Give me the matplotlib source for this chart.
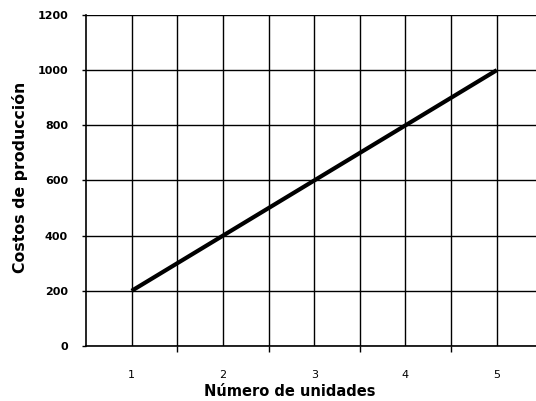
import matplotlib
matplotlib.use("Agg")
import matplotlib.pyplot as plt
from matplotlib.ticker import FixedLocator, NullFormatter

units = [1, 2, 3, 4, 5]
costs = [200, 400, 600, 800, 1000]
y_ticks = [0, 200, 400, 600, 800, 1000, 1200]

fig = plt.figure(figsize=(5.36, 4.01), dpi=100)
ax = fig.add_axes([86/536, 1-346/401, 1-86/536, (346-15)/401])

ax.plot(units, costs, color="black", lw=3, solid_capstyle="butt")

ax.set_xlim(0.5, 5.43)
ax.set_ylim(0, 1200)
ax.set_yticks(y_ticks)
ax.set_yticklabels([str(v) for v in y_ticks], fontsize=8, fontweight="bold")
ax.set_xticks(units)
ax.set_xticklabels([str(u) for u in units], fontsize=8)
ax.tick_params(axis="x", which="major", length=0, pad=17)
ax.xaxis.set_minor_locator(FixedLocator([1.5, 2.5, 3.5, 4.5]))
ax.xaxis.set_minor_formatter(NullFormatter())
ax.tick_params(axis="x", which="minor", length=4, direction="out", width=1)
ax.tick_params(axis="y", length=3, width=1, direction="out", pad=10)

ax.grid(True, which="major", axis="both", color="black", lw=1)
ax.grid(True, which="minor", axis="x", color="black", lw=1)
ax.set_axisbelow(True)

for s in ["top", "right"]:
    ax.spines[s].set_visible(False)
ax.spines["left"].set_linewidth(1.2)
ax.spines["bottom"].set_linewidth(1.2)

ax.set_xlabel("Número de unidades", fontsize=10.5, fontweight="bold")
ax.xaxis.set_label_coords((290 - 86) / (536 - 86), -0.115)
ax.set_ylabel("Costos de producción", fontsize=11.3, fontweight="bold")
ax.yaxis.set_label_coords((28 - 86) / (536 - 86), (346 - 177) / 331)

fig.savefig("out.png", dpi=100)
